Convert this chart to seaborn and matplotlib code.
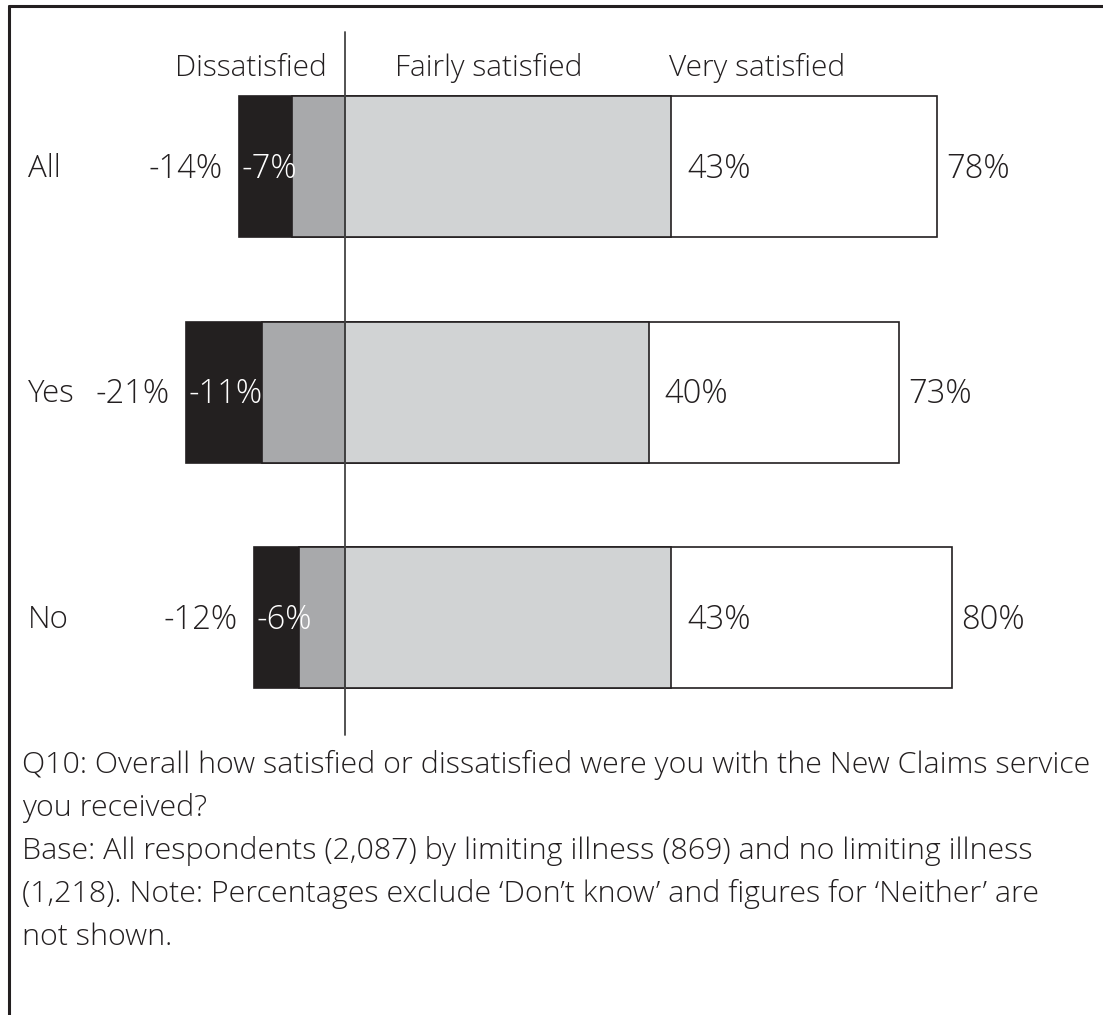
import matplotlib
matplotlib.use("Agg")
import matplotlib.pyplot as plt
import seaborn as sns
import pandas as pd
from matplotlib.lines import Line2D

sns.set_theme(style="white")
plt.rcParams['font.family'] = ['Open Sans', 'DejaVu Sans']

# ---- data ----
groups = ["All", "Yes", "No"]
very_dissatisfied = [7, 10, 6]
fairly_dissatisfied = [7, 11, 6]
dissatisfied_total = [14, 21, 12]
fairly_satisfied = [43, 40, 43]
satisfied_total = [78, 73, 80]
header_labels = ["Dissatisfied", "Fairly satisfied", "Very satisfied"]
caption_lines = [
    "Q10: Overall how satisfied or dissatisfied were you with the New Claims service",
    "you received?",
    "Base: All respondents (2,087) by limiting illness (869) and no limiting illness",
    "(1,218). Note: Percentages exclude \u2018Don\u2019t know\u2019 and figures for \u2018Neither\u2019 are",
    "not shown.",
]

C_DARK = "#231f20"
C_MID = "#a7a9ac"
C_LIGHT = "#d1d3d4"
C_WHITE = "#ffffff"
TXT = "#231f20"

df = pd.DataFrame({
    "group": groups,
    "neg_total": [-v for v in dissatisfied_total],
    "neg_fairly": [-v for v in fairly_dissatisfied],
    "pos_total": satisfied_total,
    "pos_fairly": fairly_satisfied,
})

W, H = 1103, 1015
fig = plt.figure(figsize=(W / 100, H / 100), dpi=100)
ax = fig.add_axes([0, 0, 1, 1])

px_per_pct = 7.59
zero_px = 345
row_px = [166.5, 392, 617.5]
row_step = 225.5

bw = 141 / row_step
kw = dict(data=df, y="group", orient="h", width=bw, ax=ax,
          edgecolor=C_DARK, linewidth=1.2, order=groups)
sns.barplot(x="neg_total", color=C_DARK, **kw)
sns.barplot(x="neg_fairly", color=C_MID, **kw)
sns.barplot(x="pos_total", color=C_WHITE, **kw)
sns.barplot(x="pos_fairly", color=C_LIGHT, **kw)
for p in ax.patches:
    p.set_facecolor(p.get_facecolor()[:3] + (1,))
    p.set_alpha(1)

ax.set_xlim(-zero_px / px_per_pct, (W - zero_px) / px_per_pct)
ax.set_ylim((H - row_px[0]) / row_step, -row_px[0] / row_step)
ax.set_axis_off()

# zero line
y_top = (32 - row_px[0]) / row_step
y_bot = (735 - row_px[0]) / row_step
ylo, yhi = ax.get_ylim()
ax.axvline(0, ymin=(y_bot - ylo) / (yhi - ylo), ymax=(y_top - ylo) / (yhi - ylo),
           color="#444444", lw=1.3, zorder=5)

fs_pct = 23.5
fs_lab = 22.5
dy = 0.01
for i, g in enumerate(groups):
    ax.text(-(zero_px - 28) / px_per_pct, i + dy, g, ha="left", va="center",
            fontsize=fs_lab, color=TXT, fontweight="light")
    ax.annotate(f"-{dissatisfied_total[i]}%", (-dissatisfied_total[i], i + dy),
                xytext=(-16, 0), textcoords="offset pixels",
                ha="right", va="center", fontsize=fs_pct, color=TXT, fontweight="light")
    ax.annotate(f"-{fairly_dissatisfied[i]}%", (-dissatisfied_total[i], i + dy),
                xytext=(3, 0), textcoords="offset pixels",
                ha="left", va="center", fontsize=fs_pct, color="white", zorder=6,
                fontweight="light")
    ax.annotate(f"{fairly_satisfied[i]}%", (fairly_satisfied[i], i + dy),
                xytext=(16, 0), textcoords="offset pixels",
                ha="left", va="center", fontsize=fs_pct, color=TXT, fontweight="light")
    ax.annotate(f"{satisfied_total[i]}%", (satisfied_total[i], i + dy),
                xytext=(9, 0), textcoords="offset pixels",
                ha="left", va="center", fontsize=fs_pct, color=TXT, fontweight="light")

# headers
header_x = [251, 489, 757]
for hx, lab in zip(header_x, header_labels):
    fig.text(hx / W, 1 - 68 / H, lab, ha="center", va="center", fontsize=21.5,
             color=TXT, fontweight="light")

# caption
cap_y = [765, 808, 851, 894, 937]
for cy, line in zip(cap_y, caption_lines):
    fig.text(22 / W, 1 - cy / H, line, ha="left", va="center", fontsize=21.9,
             color=TXT, fontweight="light")

# frame (top and left)
fig.add_artist(Line2D([9 / W, 9 / W], [0, 1 - 6 / H], transform=fig.transFigure,
                      color="#231f20", lw=2.2))
fig.add_artist(Line2D([9 / W, 1], [1 - 6 / H, 1 - 6 / H], transform=fig.transFigure,
                      color="#231f20", lw=2.2))

fig.savefig("out.png", dpi=100, facecolor="white")
